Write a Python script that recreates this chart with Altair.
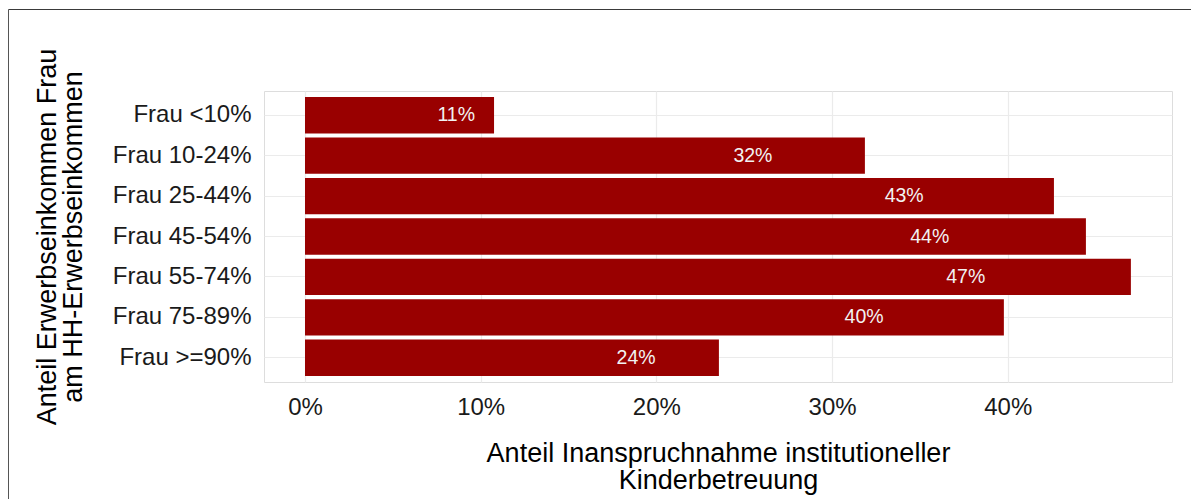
import altair as alt
import pandas as pd

categories = ["Frau <10%", "Frau 10-24%", "Frau 25-44%", "Frau 45-54%",
              "Frau 55-74%", "Frau 75-89%", "Frau >=90%"]
shares = [0.1076, 0.3187, 0.4263, 0.4445, 0.4701, 0.3978, 0.2356]
x_ticks = [0.0, 0.1, 0.2, 0.3, 0.4]
x_title = ["Anteil Inanspruchnahme institutioneller", "Kinderbetreuung"]
y_title = ["Anteil Erwerbseinkommen Frau", "am HH-Erwerbseinkommen"]

df = pd.DataFrame({"cat": categories, "share": shares})

FONT = "Liberation Sans"
W, H = 908, 291
PL, PT = 256, 83
TOTAL_W, TOTAL_H = 1183, 491

base = alt.Chart(df).encode(
    y=alt.Y(
        "cat:N",
        sort=categories,
        scale=alt.Scale(paddingInner=0.1, paddingOuter=0.15),
        axis=alt.Axis(
            title=y_title,
            bandPosition=0.5,
            ticks=False,
            domain=False,
            labelPadding=13,
            labelFontSize=24,
            labelColor="#1A1A1A",
            labelFont=FONT,
            grid=True,
            gridColor="#EBEBEB",
            gridWidth=1.2,
            titleFont=FONT,
            titleFontSize=27,
            titleFontWeight="normal",
            titleColor="#000000",
            titleAngle=-90,
            titleAlign="center",
            titleBaseline="top",
            titleLineHeight=26,
            titleX=-230,
            titleY=H / 2,
        ),
    )
)

bars = base.mark_bar(color="#990000").encode(
    x=alt.X(
        "share:Q",
        scale=alt.Scale(domain=[-0.02334, 0.4935], nice=False, zero=False),
        axis=alt.Axis(
            values=x_ticks,
            format=".0%",
            title=x_title,
            ticks=False,
            domain=False,
            labelPadding=13,
            labelFontSize=24,
            labelColor="#1A1A1A",
            labelFont=FONT,
            grid=True,
            gridColor="#EBEBEB",
            gridWidth=1.2,
            titleFont=FONT,
            titleFontSize=27,
            titleFontWeight="normal",
            titleColor="#000000",
            titleAlign="center",
            titleBaseline="alphabetic",
            titleLineHeight=27,
            titleX=W / 2,
            titleY=79,
        ),
    )
)

labels = base.mark_text(
    color="#F2F2F2", font=FONT, fontSize=19.5, align="center", baseline="middle"
).transform_calculate(
    pos="datum.share * 0.8", lbl="format(datum.share, '.0%')"
).encode(
    x=alt.X("pos:Q"),
    text=alt.Text("lbl:N"),
)

one = alt.Chart(pd.DataFrame({"k": [0]}))
top_line = one.mark_rule(color="#3A3A3A", strokeWidth=1).encode(
    x=alt.value(-PL + 0.5), x2=alt.value(TOTAL_W - PL), y=alt.value(-PT + 1.5)
)
left_line = one.mark_rule(color="#555555", strokeWidth=1).encode(
    x=alt.value(-PL + 0.5), y=alt.value(-PT + 1.5), y2=alt.value(TOTAL_H - PT)
)

chart = alt.layer(bars, labels, top_line, left_line).properties(
    width=W,
    height=H,
    autosize=alt.AutoSizeParams(type="none"),
    padding={"left": PL, "top": PT, "right": TOTAL_W - PL - W, "bottom": TOTAL_H - PT - H},
).configure_view(stroke="#DEDEDE", strokeWidth=1).configure(background="white")

chart.save("out.html", embed_options={"renderer": "svg", "actions": False})
